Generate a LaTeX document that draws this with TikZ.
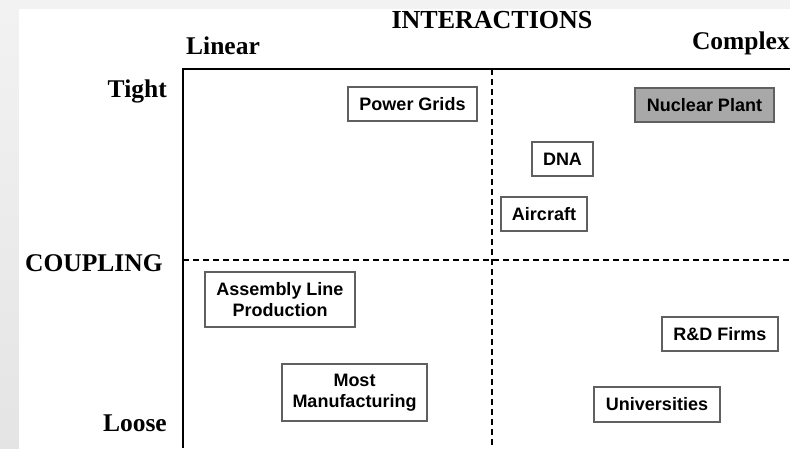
\documentclass[tikz,border=0pt]{standalone}
\usepackage{fontspec}
\setmainfont{Liberation Serif}
\newfontfamily\boxfont{Liberation Sans}
\begin{document}
\begin{tikzpicture}[x=1pt,y=-1pt,
        axislabel/.style={font=\fontsize{25.5}{28}\selectfont\bfseries, inner sep=0pt},
        sysbox/.style={draw=gray!75!black, line width=1.2pt, fill=white, inner sep=0pt, outer sep=0pt,
            align=center, font=\boxfont\fontsize{18}{21}\selectfont\bfseries},
        divider/.style={line width=1.8pt, dash pattern=on 6pt off 4pt}]
        \useasboundingbox (0,0) rectangle (790,448);
        \fill[gray!10] (0,0) rectangle (790,448);
        \shade[top color=gray!10, bottom color=gray!21] (0,0) rectangle (19,448);
        \fill[white] (19,9) rectangle (790,448);
        % frame and dividers
        \coordinate (corner) at (183,69);
        \coordinate (topend) at (790,69);
        \coordinate (leftend) at (183,448);
        \coordinate (vtop) at (492,69);
        \coordinate (vbot) at (492,448);
        \coordinate (hleft) at (183,260);
        \coordinate (hright) at (790,260);
        \draw[divider] (vtop) -- (vbot);
        \draw[divider] (hleft) -- (hright);
        \draw[line width=2pt] (topend) -- (corner) -- (leftend);
        % axis labels
        \node[axislabel, anchor=base, font=\fontsize{26}{28}\selectfont\bfseries] (interactions) at (492,28) {INTERACTIONS};
        \node[axislabel, anchor=base west] (linear) at (186,54) {Linear};
        \node[axislabel, anchor=base east] (complex) at (790,49) {Complex};
        \node[axislabel, anchor=base east] (tight) at (167,97) {Tight};
        \node[axislabel, anchor=base west] (coupling) at (25,271) {COUPLING};
        \node[axislabel, anchor=base east] (loose) at (167,431) {Loose};
        % systems
        \node[sysbox, minimum width=129pt, minimum height=34pt] (grids) at (412.5,104) {Power Grids};
        \node[sysbox, minimum width=139pt, minimum height=34pt, fill=gray!68] (nuclear) at (704.5,105) {Nuclear Plant};
        \node[sysbox, minimum width=61pt, minimum height=34pt] (dna) at (562.5,159) {DNA};
        \node[sysbox, minimum width=86pt, minimum height=34pt] (aircraft) at (544,214) {Aircraft};
        \node[sysbox, minimum width=150pt, minimum height=55pt] (assembly) at (280,299.5) {Assembly Line\\Production};
        \node[sysbox, minimum width=145pt, minimum height=57pt] (manufacturing) at (354.5,392.5) {Most\\Manufacturing};
        \node[sysbox, minimum width=116pt, minimum height=34pt] (rnd) at (720,334) {R\&D Firms};
        \node[sysbox, minimum width=126pt, minimum height=35pt] (universities) at (657,404.5) {Universities};
    \end{tikzpicture}
\end{document}
